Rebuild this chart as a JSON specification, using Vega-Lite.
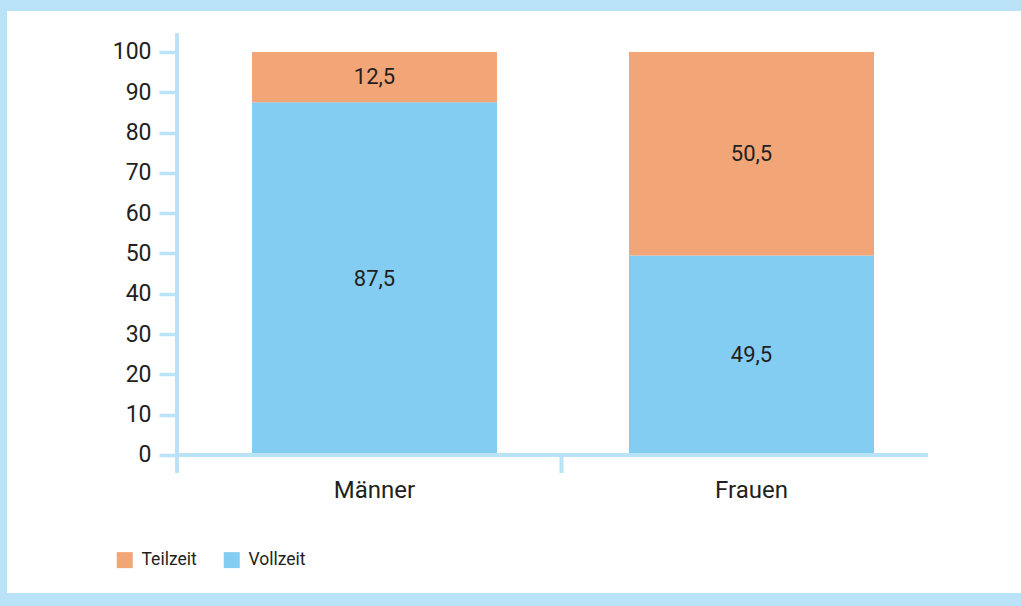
{
  "$schema": "https://vega.github.io/schema/vega-lite/v6.json",
  "width": 1021,
  "height": 606,
  "autosize": {"type": "fit", "contains": "padding"},
  "padding": {"left": 7, "top": 11, "right": 0, "bottom": 14},
  "background": "#BAE3F8",
  "datasets": {
    "bars": [
      {"gruppe": "Männer", "art": "Vollzeit", "wert": 87.5, "label": "87,5", "rang": 1},
      {"gruppe": "Männer", "art": "Teilzeit", "wert": 12.5, "label": "12,5", "rang": 2},
      {"gruppe": "Frauen", "art": "Vollzeit", "wert": 49.5, "label": "49,5", "rang": 1},
      {"gruppe": "Frauen", "art": "Teilzeit", "wert": 50.5, "label": "50,5", "rang": 2}
    ],
    "yline": [{"gruppe": "Männer", "oben": 104.7, "unten": -4.47}],
    "xline": [{"von": "Männer", "bis": "Frauen", "null": 0}],
    "sep": [{"gruppe": "Frauen", "oben": 0, "unten": -4.47}]
  },
  "layer": [
    {
      "data": {"name": "bars"},
      "mark": {"type": "bar"},
      "encoding": {
        "x": {
          "field": "gruppe", "type": "nominal",
          "scale": {"domain": ["Männer", "Frauen"], "paddingInner": 0.3501, "paddingOuter": 0.5199, "align": 0.625}
        },
        "y": {
          "field": "wert", "type": "quantitative", "stack": "zero",
          "scale": {"domain": [-34.0, 110.17], "nice": false, "zero": false},
          "axis": {"values": [0, 10, 20, 30, 40, 50, 60, 70, 80, 90, 100]}
        },
        "color": {
          "field": "art", "type": "nominal",
          "scale": {"domain": ["Teilzeit", "Vollzeit"], "range": ["#F2A576", "#84CDF2"]},
          "legend": {
            "orient": "none", "legendX": 109, "legendY": 540, "direction": "horizontal",
            "title": null, "symbolType": "square", "symbolSize": 256, "symbolStrokeWidth": 0,
            "symbolOpacity": 1, "labelFont": "Roboto", "labelFontSize": 17.5,
            "labelColor": "#231F20", "labelOffset": 8, "columnPadding": 26, "padding": 0
          }
        },
        "order": {"field": "rang", "type": "quantitative"}
      }
    },
    {
      "data": {"name": "bars"},
      "mark": {"type": "text", "font": "Roboto", "fontSize": 22, "color": "#231F20", "baseline": "middle"},
      "encoding": {
        "x": {"field": "gruppe", "type": "nominal"},
        "y": {"field": "wert", "type": "quantitative", "stack": "zero", "bandPosition": 0.5},
        "order": {"field": "rang", "type": "quantitative"},
        "text": {"field": "label", "type": "nominal"}
      }
    },
    {
      "data": {"name": "yline"},
      "mark": {"type": "rule", "color": "#BAE3F8", "strokeWidth": 4},
      "encoding": {
        "x": {"field": "gruppe", "type": "nominal", "bandPosition": -0.306},
        "y": {"field": "oben", "type": "quantitative"},
        "y2": {"field": "unten"}
      }
    },
    {
      "data": {"name": "xline"},
      "mark": {"type": "rule", "color": "#BAE3F8", "strokeWidth": 4},
      "encoding": {
        "x": {"field": "von", "type": "nominal", "bandPosition": -0.31},
        "x2": {"field": "bis", "bandPosition": 1.22},
        "y": {"field": "null", "type": "quantitative"}
      }
    },
    {
      "data": {"name": "sep"},
      "mark": {"type": "rule", "color": "#BAE3F8", "strokeWidth": 4},
      "encoding": {
        "x": {"field": "gruppe", "type": "nominal", "bandPosition": -0.2755},
        "y": {"field": "oben", "type": "quantitative"},
        "y2": {"field": "unten"}
      }
    }
  ],
  "config": {
    "view": {"fill": "white", "stroke": "white", "strokeWidth": 1},
    "axis": {"title": null, "grid": false},
    "axisY": {
      "offset": -169, "domain": false, "ticks": true, "tickSize": 17, "tickWidth": 3.5,
      "tickColor": "#BAE3F8", "labelFont": "Roboto", "labelFontSize": 23,
      "labelColor": "#231F20", "labelPadding": 8
    },
    "axisX": {
      "offset": -137, "domain": false, "ticks": false, "labelAngle": 0,
      "labelFont": "Roboto", "labelFontSize": 24, "labelColor": "#231F20",
      "labelPadding": 23
    }
  }
}
